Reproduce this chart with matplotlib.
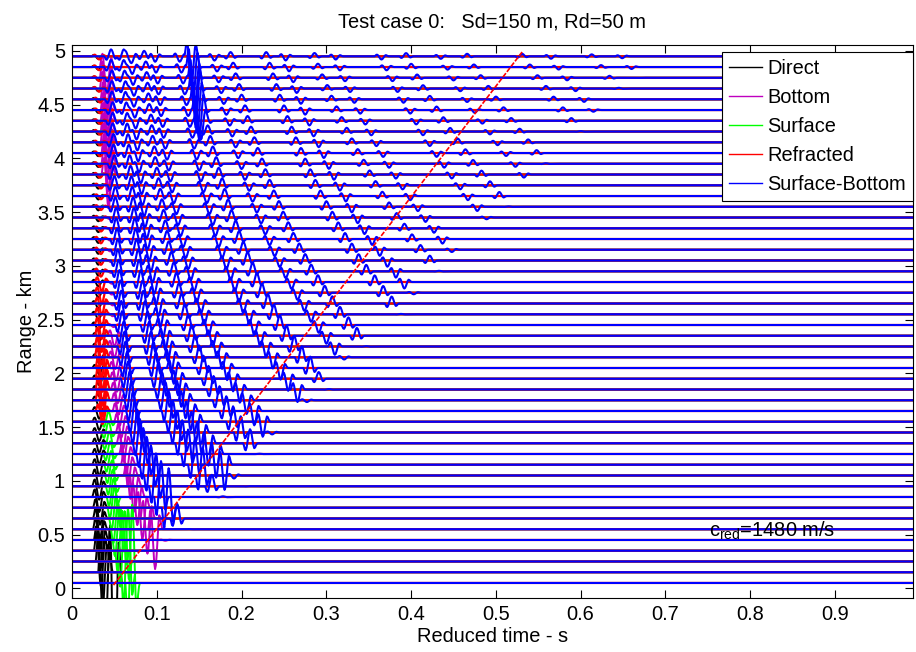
import numpy as np
import matplotlib
matplotlib.use('Agg')
import matplotlib.pyplot as plt
from matplotlib.lines import Line2D

plt.rcParams['font.family'] = ['Liberation Sans', 'DejaVu Sans']
plt.rcParams['mathtext.fontset'] = 'custom'
plt.rcParams['mathtext.rm'] = 'Liberation Sans'
plt.rcParams['mathtext.it'] = 'Liberation Sans'

# receiver ranges (km), one trace each
ranges = [0.05, 0.15, 0.25, 0.35, 0.45, 0.55, 0.65, 0.75, 0.85, 0.95,
          1.05, 1.15, 1.25, 1.35, 1.45, 1.55, 1.65, 1.75, 1.85, 1.95,
          2.05, 2.15, 2.25, 2.35, 2.45, 2.55, 2.65, 2.75, 2.85, 2.95,
          3.05, 3.15, 3.25, 3.35, 3.45, 3.55, 3.65, 3.75, 3.85, 3.95,
          4.05, 4.15, 4.25, 4.35, 4.45, 4.55, 4.65, 4.75, 4.85, 4.95]

# source pulse, one sample per ms
pulse = [0.0, 0.2, 0.45, 0.5, 0.3, -0.1, -0.5, -0.85, -1.0, -0.9, -0.6,
         -0.2, 0.15, 0.35, 0.3, 0.15, 0.05, 0.0]

# geometry
src_depth = 0.15      # km
rcv_depth = 0.05      # km
water_depth = 0.27    # km
c_water = 1.48        # km/s
c_red = 1.48          # km/s
t_offset = 0.033      # s
crit_angle = 33.0     # deg
refl_coef = 0.8

# amplitude scale per path type
amp_direct = 0.12
amp_surface = 0.15
amp_bottom = 0.3
amp_multi = 0.4

# direct and surface arrivals (apparent moveout: t_inf, depth, slowness)
direct_move = [0.031, 0.06, 1 / 1.48]
surface_move = [0.033, 0.8, 0.05]

# refracted arrival amplitude per trace
refr_amp = [0, 0, 0, 0, 0, 0, 0, 0, 0, 0,
            0, 0, 0, 0, 0, 0, 0.12, 0.22, 0.25, 0.25,
            0.22, 0.2, 0.17, 0.15, 0.13, 0.12, 0.11, 0.1, 0.09, 0.05,
            0.04, 0.04, 0.04, 0.03, 0.03, 0.03, 0.03, 0.03, 0.03, 0.03,
            0.03, 0.03, 0.03, 0.03, 0.03, 0.03, 0.03, 0.03, 0.03, 0.03]
refr_time = [0.038, -0.0012]

# gain on top of spreading loss, per trace
surface_gain = [1] * 16 + [0.1] * 34
bottom_gain = [1] * 24 + [0.2] * 14 + [5, 6, 6, 6, 6, 6, 6, 6, 6, 6] + [5, 0.2]

# strong surface-bottom arrivals near the top
caustic_r = [4.35, 4.45, 4.55, 4.65, 4.75, 4.85, 4.95]
caustic_t = [0.152, 0.150, 0.148, 0.146, 0.145, 0.143, 0.141]
caustic_amp = [0.15, 0.25, 0.3, 0.35, 0.35, 0.35, 0.3]

# reference line for c_red
ref_t = [0.049, 0.532]
ref_r = [0.03, 5.0]

dt = 0.001
t_max = 0.992
t = np.arange(0, t_max + dt, dt)
n_t = len(t)
pulse = np.array(pulse)
p_ref = int(np.argmin(pulse))


def add_pulse(trace, t_arr, amp):
    i0 = int(round(t_arr / dt)) - p_ref
    for k, p in enumerate(pulse):
        if 0 <= i0 + k < n_t:
            trace[i0 + k] += amp * p


def bottom_coef(z, r):
    ang = np.degrees(np.arctan2(z, r))
    if ang <= crit_angle:
        return refl_coef
    return refl_coef * np.exp(-(ang - crit_angle) / 1.0)


n_r = len(ranges)
direct = np.zeros((n_r, n_t))
bottom = np.zeros((n_r, n_t))
surface = np.zeros((n_r, n_t))
refr = np.zeros((n_r, n_t))
surfbot = np.zeros((n_r, n_t))

zs, zr, D = src_depth, rcv_depth, water_depth
for i, r in enumerate(ranges):
    # direct
    ti = direct_move[0] + (np.hypot(r, direct_move[1]) - r) * direct_move[2]
    add_pulse(direct[i], ti, amp_direct / np.hypot(r, zs - zr))
    # surface
    ti = surface_move[0] + (np.hypot(r, surface_move[1]) - r) * surface_move[2]
    add_pulse(surface[i], ti, -amp_surface / np.hypot(r, zs + zr) * surface_gain[i])
    # bottom
    z = 2 * D - zs - zr
    R = np.hypot(r, z)
    ti = t_offset + R / c_water - r / c_red
    add_pulse(bottom[i], ti, amp_bottom / R * bottom_coef(z, r) * bottom_gain[i])
    # refracted
    if refr_amp[i] > 0:
        add_pulse(refr[i], refr_time[0] + refr_time[1] * r, refr_amp[i])
    # surface-bottom multiples
    for m in range(1, 16):
        paths = [(2 * m * D - zs + zr, m), (2 * m * D + zs - zr, m),
                 (2 * m * D + zs + zr, m + 1)]
        if m > 1:
            paths.append((2 * m * D - zs - zr, m - 1))
        for z, ns in paths:
            R = np.hypot(r, z)
            ti = t_offset + R / c_water - r / c_red
            if ti > t_max:
                continue
            a = amp_multi / R * bottom_coef(z, r) ** m * (-1) ** ns
            add_pulse(surfbot[i], ti, a)
    for cr, ct, ca in zip(caustic_r, caustic_t, caustic_amp):
        if abs(cr - r) < 1e-6:
            add_pulse(surfbot[i], ct, ca)

fig = plt.figure(figsize=(9.16, 6.52), dpi=100)
ax = fig.add_axes([0.0786, 0.0828, 0.918, 0.848])

comps = [(direct, 'k'), (bottom, 'm'), (surface, '#00ff00'), (refr, 'r'), (surfbot, 'b')]
for data, col in comps:
    lw = 1.4
    if col == 'r':
        lw = 1.6
    if col == 'b':
        lw = 1.5
    for i, r in enumerate(ranges):
        ax.plot(t, r + data[i], color=col, lw=lw, solid_joinstyle='round', snap=False)

ax.plot(ref_t, ref_r, color='r', lw=1.2, ls=(0, (3, 1)))
ax.text(0.751, 0.477, r'c$_{\mathrm{red}}$=1480 m/s', fontsize=14.4)

ax.set_xlim(0, t_max)
ax.set_ylim(-0.09, 5.054)
ax.set_xticks(np.arange(0, 0.95, 0.1))
ax.set_xticklabels(['0', '0.1', '0.2', '0.3', '0.4', '0.5', '0.6', '0.7', '0.8', '0.9'])
ax.set_yticks(np.arange(0, 5.01, 0.5))
ax.set_yticklabels(['0', '0.5', '1', '1.5', '2', '2.5', '3', '3.5', '4', '4.5', '5'])
ax.tick_params(direction='in', length=6, width=0.8, top=True, right=True,
               labelsize=14.4, pad=5)
for s in ax.spines.values():
    s.set_linewidth(0.8)

ax.set_xlabel('Reduced time - s', fontsize=14.4, labelpad=2)
ax.set_ylabel('Range - km', fontsize=14.4, labelpad=1)
ax.set_title('Test case 0:   Sd=150 m, Rd=50 m', fontsize=14.4, pad=13)

handles = [Line2D([], [], color=c, lw=1) for c in ['k', 'm', '#00ff00', 'r', 'b']]
leg = ax.legend(handles, ['Direct', 'Bottom', 'Surface', 'Refracted', 'Surface-Bottom'],
                loc='upper right', bbox_to_anchor=(1.0, 0.987), fontsize=14.4,
                fancybox=False, framealpha=1, edgecolor='k', borderaxespad=0,
                handlelength=1.65, handletextpad=0.25, labelspacing=0.5,
                borderpad=0.35)
leg.get_frame().set_linewidth(0.8)

fig.savefig('out.png', dpi=100)
